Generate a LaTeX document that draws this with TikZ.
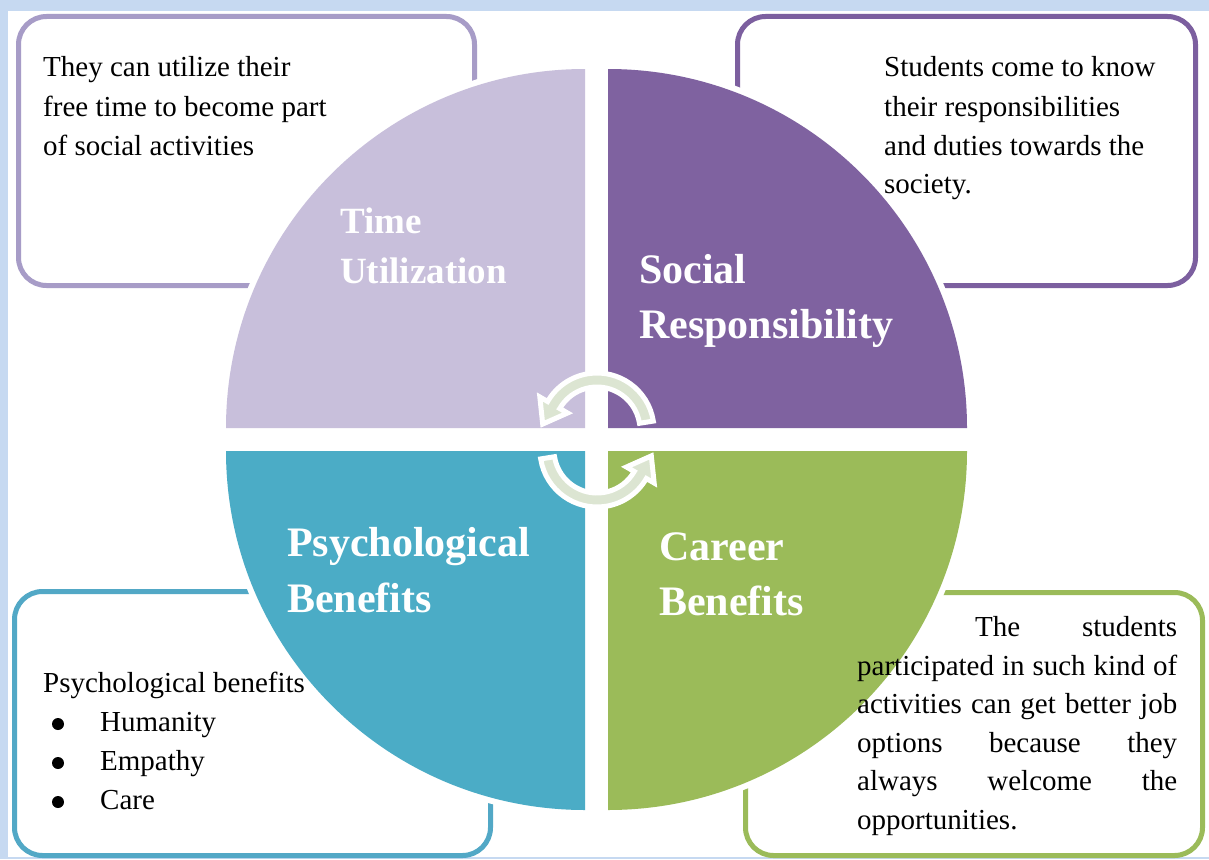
\documentclass[tikz,border=0pt]{standalone}
\usepackage{fontspec}
\setmainfont{Liberation Serif}
\usetikzlibrary{calc}
\definecolor{bgblue}{HTML}{C6D9F1}
\definecolor{tlfill}{HTML}{C8BFDB}
\definecolor{tlline}{HTML}{A79CC7}
\definecolor{trfill}{HTML}{7F62A0}
\definecolor{trline}{HTML}{7C5F9F}
\definecolor{blfill}{HTML}{4BACC6}
\definecolor{blline}{HTML}{52A8C6}
\definecolor{brfill}{HTML}{9BBB59}
\definecolor{brline}{HTML}{9BBB59}
\definecolor{arrowfill}{HTML}{DCE5D2}
\begin{document}
\begin{tikzpicture}[x=1pt,y=1pt,
  box/.style={line width=5pt, rounded corners=28pt},
  quad/.style={preaction={draw=white,line width=12pt}},
  body/.style={font=\fontsize{29}{39}\selectfont, anchor=base west, inner sep=0pt, text=black},
  bulletdot/.style={circle, fill=black, inner sep=0pt, minimum size=12pt},
  title/.style={font=\bfseries\fontsize{42}{50}\selectfont, anchor=base west, inner sep=0pt, text=white},
  smalltitle/.style={title, font=\bfseries\fontsize{37}{45}\selectfont},
  cycarrow/.style={fill=arrowfill, draw=white, line width=5pt, line join=miter}
]
\useasboundingbox (0,0) rectangle (1209,-859);
\fill[bgblue] (0,0) rectangle (1209,-859);
\fill[white] (8,-11) rectangle (1209,-857);

% outer boxes
\draw[box, tlline] (18.5,-16.5) rectangle (474.5,-285.5);
\draw[box, trline] (737.5,-16.5) rectangle (1195.5,-285.5);
\draw[box, blline] (14.5,-591.5) rectangle (490.5,-855.5);
\draw[box, brline] (745.5,-592.5) rectangle (1202.5,-855.5);

% quadrants
\path[quad, fill=tlfill] (585,-428) -- (226,-428) arc[start angle=180, end angle=90, radius=359pt] -- cycle;
\path[quad, fill=trfill] (608,-428) -- (608,-69) arc[start angle=90, end angle=0, radius=359pt] -- cycle;
\path[quad, fill=blfill] (585,-451) -- (226,-451) arc[start angle=180, end angle=270, radius=359pt] -- cycle;
\path[quad, fill=brfill] (608,-451) -- (967,-451) arc[start angle=0, end angle=-90, radius=359pt] -- cycle;

% cycle arrows
\coordinate (c1) at (597,-430);
\coordinate (c2) at (597,-450);
\draw[cycarrow] ($(c1)+(9:57pt)$) arc[start angle=9, end angle=150, radius=57pt]
  -- ($(c1)+(150:66pt)$) -- ($(c1)+(150:50pt)+(240:22pt)$) -- ($(c1)+(150:34pt)$)
  -- ($(c1)+(150:43pt)$) arc[start angle=150, end angle=9, radius=43pt] -- cycle;
\draw[cycarrow] ($(c2)+(189:57pt)$) arc[start angle=189, end angle=330, radius=57pt]
  -- ($(c2)+(330:66pt)$) -- ($(c2)+(330:50pt)+(60:22pt)$) -- ($(c2)+(330:34pt)$)
  -- ($(c2)+(330:43pt)$) arc[start angle=330, end angle=189, radius=43pt] -- cycle;

% titles
\node[smalltitle] (t1a) at (340,-233) {Time};
\node[smalltitle] (t1b) at (340,-283) {Utilization};
\node[title] (t2a) at (639,-283) {Social};
\node[title] (t2b) at (639,-338) {Responsibility};
\node[title] (t3a) at (287,-556) {Psychological};
\node[title] (t3b) at (287,-612) {Benefits};
\node[title] (t4a) at (659,-560) {Career};
\node[title] (t4b) at (659,-615) {Benefits};

% top-left text
\node[body] (tl1) at (43,-77) {They can utilize their};
\node[body] (tl2) at (43,-116) {free time to become part};
\node[body] (tl3) at (43,-155) {of social activities};

% top-right text
\node[body] (tr1) at (884,-77) {Students come to know};
\node[body] (tr2) at (884,-116) {their responsibilities};
\node[body] (tr3) at (884,-155) {and duties towards the};
\node[body] (tr4) at (884,-193) {society.};

% bottom-left text
\node[body] (bl0) at (43,-692) {Psychological benefits};
\node[bulletdot] (bb1) at (58,-724) {};
\node[body] (bl1) at (100,-731) {Humanity};
\node[bulletdot] (bb2) at (58,-763) {};
\node[body] (bl2) at (100,-770) {Empathy};
\node[bulletdot] (bb3) at (58,-802) {};
\node[body] (bl3) at (100,-809) {Care};

% bottom-right text
\node[body] (br1) at (975,-636) {\makebox[202pt][s]{The students}};
\node[body] (br2) at (857,-675) {\makebox[320pt][s]{participated in such kind of}};
\node[body] (br3) at (857,-713) {\makebox[320pt][s]{activities can get better job}};
\node[body] (br4) at (857,-752) {\makebox[320pt][s]{options because they}};
\node[body] (br5) at (857,-790) {\makebox[320pt][s]{always welcome the}};
\node[body] (br6) at (857,-829) {opportunities.};
\end{tikzpicture}
\end{document}
